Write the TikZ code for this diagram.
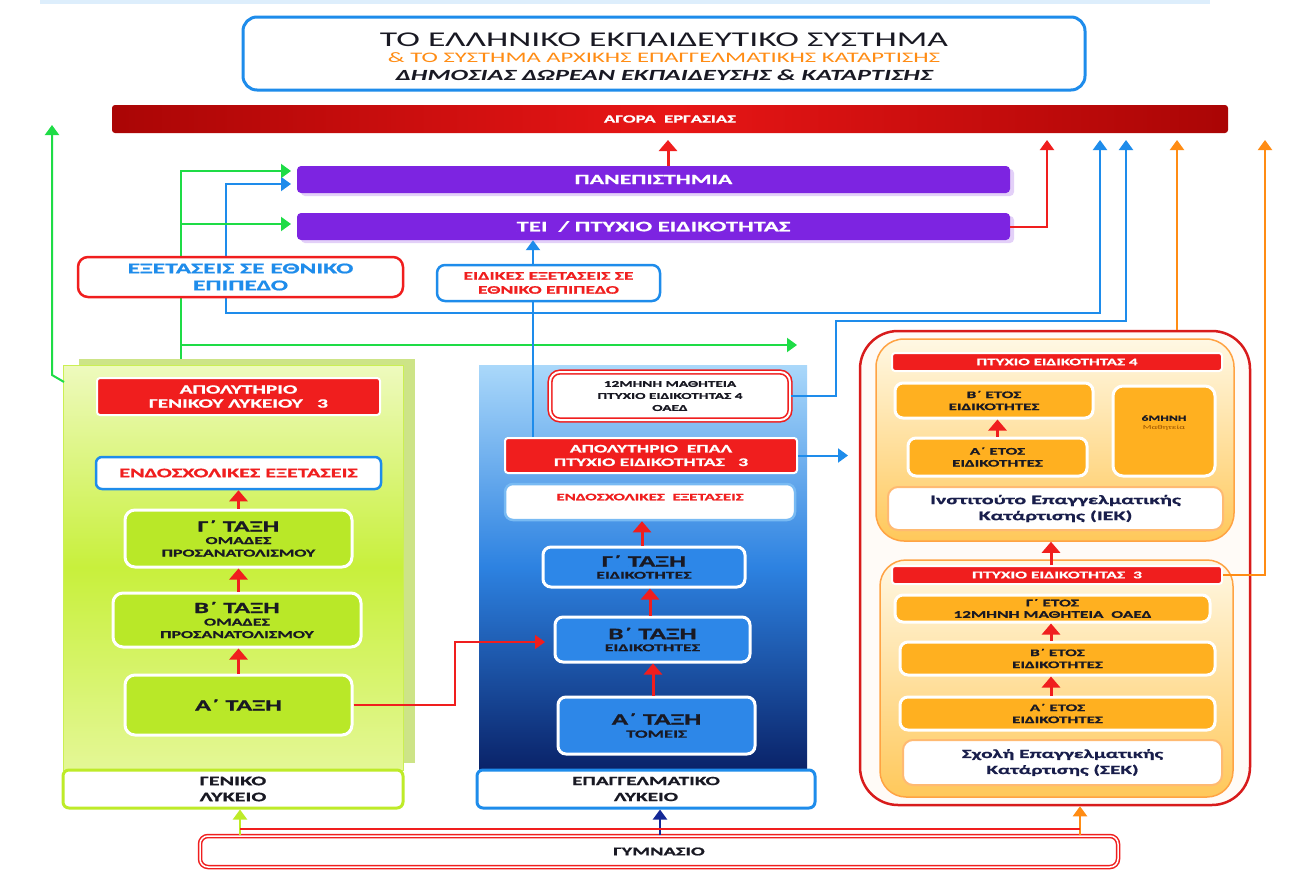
\documentclass[tikz,border=0pt]{standalone}
\usepackage{fontspec}
\setmainfont{Carlito}[FakeStretch=1.7, BoldFeatures={FakeBold=1}]
\usetikzlibrary{arrows.meta,shadows}
\definecolor{tblue}{RGB}{30,140,235}
\definecolor{dred}{RGB}{170,5,5}
\definecolor{mred}{RGB}{232,22,22}
\definecolor{bred}{RGB}{240,30,30}
\definecolor{purp}{RGB}{125,36,225}
\definecolor{gline}{RGB}{30,220,70}
\definecolor{lgreen}{RGB}{185,232,40}
\definecolor{ygreen}{RGB}{190,235,40}
\definecolor{glshade}{RGB}{205,228,135}
\definecolor{gltop}{RGB}{238,250,190}
\definecolor{glmid}{RGB}{200,240,60}
\definecolor{glbot}{RGB}{228,247,150}
\definecolor{eptop}{RGB}{170,216,250}
\definecolor{epmid}{RGB}{45,130,225}
\definecolor{epbot}{RGB}{10,35,105}
\definecolor{ebl}{RGB}{45,135,232}
\definecolor{orf}{RGB}{255,176,32}
\definecolor{orl}{RGB}{255,140,20}
\definecolor{ortop}{RGB}{255,248,228}
\definecolor{orbot}{RGB}{255,200,90}
\definecolor{navy}{RGB}{20,40,150}
\definecolor{txt}{RGB}{25,25,35}
\definecolor{ntxt}{RGB}{25,30,75}
\definecolor{brown}{RGB}{150,80,0}
\newcommand{\fs}[2]{\fontsize{#1}{#2}\selectfont}
\tikzset{
  bx/.style 2 args={minimum width=#1pt, minimum height=#2pt, inner sep=0pt, align=center},
  redbar/.style={fill=bred, draw=white, line width=2pt, rounded corners=3pt, text=white, font=\bfseries},
  greenbox/.style={fill=lgreen, draw=white, line width=3pt, rounded corners=10pt, text=txt, font=\bfseries},
  bluebox/.style={fill=ebl, draw=white, line width=3pt, rounded corners=8pt, text=txt, font=\bfseries},
  orbox/.style={fill=orf, draw=white, line width=3pt, rounded corners=8pt, text=txt, font=\bfseries},
  purbar/.style={fill=purp, rounded corners=4pt, text=white,
     drop shadow={fill=purp!35, opacity=0.6, shadow xshift=4pt, shadow yshift=-3pt}},
  wbox/.style={fill=white, rounded corners=8pt},
  stepar/.style={draw=bred, line width=3pt, -{Triangle[width=18pt,length=11pt]}},
  conn/.style={line width=2pt, -{Triangle[width=14pt,length=10pt]}},
}
\begin{document}
\begin{tikzpicture}[x=1pt,y=-1pt]
\useasboundingbox (0,0) rectangle (1299,881);
\fill[white] (0,0) rectangle (1299,881);
\fill[tblue!15] (40,0) rectangle (1210,4);

% ---------- header
\node[bx={842}{73}, draw=tblue, line width=3pt, rounded corners=14pt, fill=white] (title) at (664,53.5) {};
\node[font=\fs{21}{24}, text=txt] (t1) at (664,40) {ΤΟ ΕΛΛΗΝΙΚΟ ΕΚΠΑΙΔΕΥΤΙΚΟ ΣΥΣΤΗΜΑ};
\node[font=\fs{14.5}{16}, text=orl] (t2) at (664,58) {\& ΤΟ ΣΥΣΤΗΜΑ ΑΡΧΙΚΗΣ ΕΠΑΓΓΕΛΜΑΤΙΚΗΣ ΚΑΤΑΡΤΙΣΗΣ};
\node[font=\fs{15.5}{17}\bfseries\itshape, text=txt] (t3) at (664,75) {ΔΗΜΟΣΙΑΣ ΔΩΡΕΑΝ ΕΚΠΑΙΔΕΥΣΗΣ \& ΚΑΤΑΡΤΙΣΗΣ};

\node[bx={1116}{28}, left color=dred, right color=dred, middle color=mred, rounded corners=3pt,
      text=white, font=\bfseries\fs{11}{13}] (agora) at (670,119) {ΑΓΟΡΑ\ \ ΕΡΓΑΣΙΑΣ};

% ---------- column backgrounds
\fill[glshade] (79,359) rectangle (415,763);
\node[bx={340}{405}, top color=gltop, bottom color=glbot, middle color=glmid, draw=ygreen!80, line width=1pt] (glbg) at (233,567.5) {};
\node[bx={328}{404}, top color=eptop, bottom color=epbot, middle color=epmid] (epbg) at (643,567) {};
\node[bx={390}{474}, draw=bred!90!black, line width=2.5pt, rounded corners=38pt, fill=orange!3] (big) at (1055,568) {};
\node[bx={358}{202}, top color=ortop, bottom color=orbot, draw=orl!80, line width=1.5pt, rounded corners=28pt] (iek) at (1055,440) {};
\node[bx={353}{237}, top color=ortop, bottom color=orbot, draw=orl!80, line width=1.5pt, rounded corners=26pt] (sek) at (1056.5,678.5) {};

% ---------- coordinates for free ends
\coordinate (ag52) at (52,125);
\coordinate (ag668) at (668,140);
\coordinate (ag1047) at (1047,140);
\coordinate (ag1100) at (1100,140);
\coordinate (ag1126) at (1126,140);
\coordinate (ag1177) at (1177,140);
\coordinate (ag1265) at (1265,140);
\coordinate (pG1) at (291,171);
\coordinate (pB) at (291,184);
\coordinate (pG2) at (291,224);
\coordinate (gEnd) at (797,345);
\coordinate (gStart) at (181,359);
\coordinate (gBr1) at (181,224);
\coordinate (gBr2) at (181,345);
\coordinate (glc) at (64,382);
\coordinate (apR) at (848,455.5);
\coordinate (e2in) at (545,642);
\coordinate (rl) at (240,829);
\coordinate (rr) at (1080,829);

% ---------- main boxes
\node[bx={713}{27}, purbar, font=\bfseries\fs{14}{16}] (pan) at (653.5,179.5) {ΠΑΝΕΠΙΣΤΗΜΙΑ};
\node[bx={713}{27}, purbar, font=\bfseries\fs{14.5}{16}] (tei) at (653.5,226.5) {ΤΕΙ\ \ /\ ΠΤΥΧΙΟ ΕΙΔΙΚΟΤΗΤΑΣ};

% ---------- connectors (drawn below boxes)
\draw[stepar] (pan.north -| ag668) -- (ag668);
\draw[conn, bred] (tei.east) -| (ag1047);
\draw[tblue, line width=2pt, {Triangle[width=14pt,length=10pt]}-{Triangle[width=14pt,length=10pt]}]
   (pB) -| (226,313) -| (ag1100);
\draw[conn, gline] (gStart) |- (pG1);
\draw[conn, gline] (gBr1) -- (pG2);
\draw[conn, gline] (gBr2) -- (gEnd);
\draw[conn, gline] (glc) -- (52,375) -- (ag52);

\node[bx={325}{40}, wbox, draw=bred, line width=2.5pt, rounded corners=10pt, text=tblue, font=\bfseries\fs{15}{17}] (exams) at (240.5,277) {ΕΞΕΤΑΣΕΙΣ ΣΕ ΕΘΝΙΚΟ\\ΕΠΙΠΕΔΟ};
\node[bx={223}{36}, wbox, draw=tblue, line width=2.5pt, text=bred, font=\bfseries\fs{11.5}{14}] (spex) at (548.5,283) {ΕΙΔΙΚΕΣ ΕΞΕΤΑΣΕΙΣ ΣΕ\\ΕΘΝΙΚΟ ΕΠΙΠΕΔΟ};

% ---------- left column
\node[bx={283}{37}, redbar, font=\bfseries\fs{12.5}{14}] (apgl) at (238.5,396.5) {ΑΠΟΛΥΤΗΡΙΟ\\ΓΕΝΙΚΟΥ ΛΥΚΕΙΟΥ\ \ \ 3};
\node[bx={285}{32}, wbox, draw=tblue, line width=2.5pt, rounded corners=6pt, text=bred, font=\bfseries\fs{13}{15}] (endgl) at (238.5,473) {ΕΝΔΟΣΧΟΛΙΚΕΣ ΕΞΕΤΑΣΕΙΣ};
\node[bx={227}{57}, greenbox, font=\bfseries\fs{10.5}{12.5}] (g3) at (238.5,538.5) {{\fs{15.5}{17}Γ΄ ΤΑΞΗ}\\ΟΜΑΔΕΣ\\ΠΡΟΣΑΝΑΤΟΛΙΣΜΟΥ};
\node[bx={248}{54}, greenbox, font=\bfseries\fs{10.5}{12.5}] (g2) at (237,620) {{\fs{15.5}{17}Β΄ ΤΑΞΗ}\\ΟΜΑΔΕΣ\\ΠΡΟΣΑΝΑΤΟΛΙΣΜΟΥ};
\node[bx={227}{60}, greenbox, font=\bfseries\fs{15.5}{17}] (g1) at (238.5,705) {Α΄ ΤΑΞΗ};
\node[bx={340}{38}, wbox, draw=ygreen, line width=3pt, rounded corners=6pt, text=txt, font=\bfseries\fs{13}{16}] (glbox) at (233,789) {ΓΕΝΙΚΟ\\ΛΥΚΕΙΟ};

\draw[stepar] (g3.north) -- (endgl.south);
\draw[stepar] (g2.north -| g3.south) -- (g3.south);
\draw[stepar] (g1.north) -- (g1.north |- g2.south);

% ---------- middle column
\node[bx={240}{48}, fill=white, draw=bred, line width=1.6pt, double=white, double distance=2pt, rounded corners=10pt, text=txt, font=\bfseries\fs{9}{12}] (m12) at (670,396) {12ΜΗΝΗ ΜΑΘΗΤΕΙΑ\\ΠΤΥΧΙΟ ΕΙΔΙΚΟΤΗΤΑΣ 4\\ΟΑΕΔ};
\node[bx={292}{35}, redbar, font=\bfseries\fs{11.5}{13.5}] (apep) at (651,455.5) {ΑΠΟΛΥΤΗΡΙΟ\ \ ΕΠΑΛ\\ΠΤΥΧΙΟ ΕΙΔΙΚΟΤΗΤΑΣ\ \ \ 3};
\node[bx={290}{36}, wbox, draw=tblue!60, line width=2.5pt, text=bred, text depth=10pt, font=\bfseries\fs{10}{11}] (endep) at (650,502) {ΕΝΔΟΣΧΟΛΙΚΕΣ\ \ ΕΞΕΤΑΣΕΙΣ};
\node[bx={202}{40}, bluebox, font=\bfseries\fs{10.5}{12}] (e3) at (644,567) {{\fs{16}{17}Γ΄ ΤΑΞΗ}\\ΕΙΔΙΚΟΤΗΤΕΣ};
\node[bx={195}{45}, bluebox, font=\bfseries\fs{10.5}{12}] (e2) at (652.5,639.5) {{\fs{16}{17}Β΄ ΤΑΞΗ}\\ΕΙΔΙΚΟΤΗΤΕΣ};
\node[bx={197}{57}, bluebox, font=\bfseries\fs{11}{13}] (e1) at (656.5,725.5) {{\fs{16}{17}Α΄ ΤΑΞΗ}\\ΤΟΜΕΙΣ};
\node[bx={338}{38}, wbox, draw=tblue, line width=3pt, rounded corners=6pt, text=txt, font=\bfseries\fs{12.5}{16}] (epbox) at (646,789) {ΕΠΑΓΓΕΛΜΑΤΙΚΟ\\ΛΥΚΕΙΟ};

\draw[tblue, line width=2pt] (apep.north -| 533,0) -- (spex.south -| 533,0);
\draw[conn, tblue] (spex.north -| 533,0) -- (tei.south -| 533,0);
\draw[conn, tblue] (m12.east) -| (836,321) -| (ag1126);
\draw[conn, tblue] (apep.east) -- (apR);
\draw[stepar] (e3.north -| 642,0) -- (endep.south -| 642,0);
\draw[stepar] (e2.north -| 650,0) -- (e3.south -| 650,0);
\draw[stepar] (e1.north -| 653,0) -- (e2.south -| 653,0);
\draw[conn, bred, line width=1.6pt] (g1.east) -| (455,642) -- (e2in);

% ---------- right column
\node[bx={330}{18}, redbar, font=\bfseries\fs{10}{11}] (p4) at (1057,362) {ΠΤΥΧΙΟ ΕΙΔΙΚΟΤΗΤΑΣ 4};
\node[bx={198}{35}, orbox, font=\bfseries\fs{10}{12}] (ib) at (994,400.5) {Β΄ ΕΤΟΣ\\ΕΙΔΙΚΟΤΗΤΕΣ};
\node[bx={179}{38}, orbox, font=\bfseries\fs{10}{12}] (ia) at (997.5,457) {Α΄ ΕΤΟΣ\\ΕΙΔΙΚΟΤΗΤΕΣ};
\node[bx={102}{90}, orbox, rounded corners=10pt] (m6) at (1164,431) {};
\node[align=center, inner sep=0pt, text=txt, font=\bfseries\fs{8}{9}] (m6t) at (1164,423) {6ΜΗΝΗ\\{\mdseries\fs{6}{7}\color{brown}Μαθητεία}};
\node[bx={335}{43}, fill=white, draw=orl!60, line width=2pt, rounded corners=10pt, text=ntxt, font=\bfseries\fs{13}{16}] (iekt) at (1055.5,508.5) {Ινστιτούτο Επαγγελματικής\\Κατάρτισης (ΙΕΚ)};
\node[bx={330}{18}, redbar, font=\bfseries\fs{10.3}{11}] (p3) at (1057,575) {ΠΤΥΧΙΟ ΕΙΔΙΚΟΤΗΤΑΣ\ \ 3};
\node[bx={315}{27}, orbox, font=\bfseries\fs{10.2}{11.5}] (sg) at (1052.5,608.5) {Γ΄ ΕΤΟΣ\\12ΜΗΝΗ ΜΑΘΗΤΕΙΑ\ \ ΟΑΕΔ};
\node[bx={315}{33}, orbox, font=\bfseries\fs{10}{12}] (sb) at (1057.5,658.5) {Β΄ ΕΤΟΣ\\ΕΙΔΙΚΟΤΗΤΕΣ};
\node[bx={315}{33}, orbox, font=\bfseries\fs{10}{12}] (sa) at (1057.5,713.5) {Α΄ ΕΤΟΣ\\ΕΙΔΙΚΟΤΗΤΕΣ};
\node[bx={319}{45}, fill=white, draw=orl!60, line width=2pt, rounded corners=10pt, text=ntxt, font=\bfseries\fs{12.5}{16}] (sekt) at (1062.5,762.5) {Σχολή Επαγγελματικής\\Κατάρτισης (ΣΕΚ)};

\draw[stepar] (ia.north) -- (ia.north |- ib.south);
\draw[stepar] (p3.north -| 1051,0) -- (iek.south -| 1051,0);
\draw[stepar] (sb.north -| 1051,0) -- (sg.south -| 1051,0);
\draw[stepar] (sa.north -| 1051,0) -- (sb.south -| 1051,0);
\draw[conn, orl] (big.north -| ag1177) -- (ag1177);
\draw[conn, orl] (p3.east) -| (ag1265);

% ---------- bottom
\node[bx={918}{31}, fill=white, draw=bred, line width=1.5pt, double=white, double distance=1.5pt, rounded corners=8pt, text=txt, font=\bfseries\fs{12}{15}] (gym) at (659,851.5) {ΓΥΜΝΑΣΙΟ};
\draw[conn, ygreen] (gym.north -| rl) -- (glbox.south -| rl);
\draw[conn, navy] (gym.north -| 660,0) -- (epbox.south -| 660,0);
\draw[conn, orl] (gym.north -| rr) -- (big.south -| rr);
\draw[bred, line width=2pt] (rl) -- (rr);
\end{tikzpicture}
\end{document}
